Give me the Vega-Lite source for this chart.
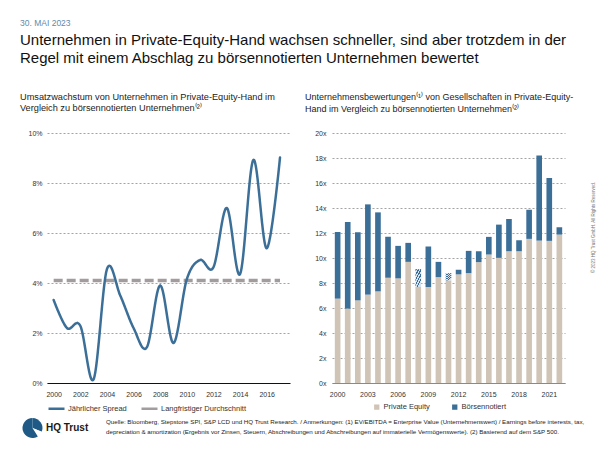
{
  "$schema": "https://vega.github.io/schema/vega-lite/v6.json",
  "background": "white",
  "padding": {"left": 20, "top": 18, "right": 5, "bottom": 5},
  "autosize": {"type": "pad"},
  "config": {
    "font": "Liberation Sans",
    "view": {"stroke": null},
    "axis": {"labelFontSize": 7, "labelColor": "#333333", "title": null, "ticks": false},
    "legend": {"labelFontSize": 7.5, "labelColor": "#333333", "title": null}
  },
  "title": {
    "text": "30. MAI 2023",
    "subtitle": ["Unternehmen in Private-Equity-Hand wachsen schneller, sind aber trotzdem in der", "Regel mit einem Abschlag zu börsennotierten Unternehmen bewertet"],
    "anchor": "start",
    "frame": "bounds",
    "fontSize": 8.5,
    "fontWeight": "normal",
    "color": "#5f8aab",
    "subtitleFontSize": 15,
    "subtitleColor": "#111111",
    "subtitleLineHeight": 18,
    "subtitlePadding": 6,
    "offset": 26.5
  },
  "bounds": "full",
  "spacing": 4,
  "vconcat": [
    {
      "bounds": "flush",
      "spacing": 42,
      "resolve": {"scale": {"color": "independent"}, "legend": {"color": "independent"}},
      "hconcat": [
        {
          "width": 243,
          "height": 250,
          "title": {
            "text": ["Umsatzwachstum von Unternehmen in Private-Equity-Hand im", "Vergleich zu börsennotierten Unternehmen⁽²⁾"],
            "anchor": "start",
            "frame": "group",
            "dx": -27,
            "fontSize": 9.2,
            "fontWeight": "normal",
            "color": "#222222",
            "lineHeight": 11.5,
            "offset": 15.5
          },
          "data": {
            "values": [
              {"jahr": 2000, "wert": 4.1, "serie": "Langfristiger Durchschnitt"},
              {"jahr": 2017, "wert": 4.1, "serie": "Langfristiger Durchschnitt"},
              {"jahr": 2000, "wert": 3.32, "serie": "Jährlicher Spread"},
              {"jahr": 2001, "wert": 2.2, "serie": "Jährlicher Spread"},
              {"jahr": 2002, "wert": 2.29, "serie": "Jährlicher Spread"},
              {"jahr": 2003, "wert": 0.15, "serie": "Jährlicher Spread"},
              {"jahr": 2004, "wert": 4.55, "serie": "Jährlicher Spread"},
              {"jahr": 2005, "wert": 3.5, "serie": "Jährlicher Spread"},
              {"jahr": 2006, "wert": 2.2, "serie": "Jährlicher Spread"},
              {"jahr": 2007, "wert": 1.43, "serie": "Jährlicher Spread"},
              {"jahr": 2008, "wert": 3.9, "serie": "Jährlicher Spread"},
              {"jahr": 2009, "wert": 1.6, "serie": "Jährlicher Spread"},
              {"jahr": 2010, "wert": 4.15, "serie": "Jährlicher Spread"},
              {"jahr": 2011, "wert": 4.92, "serie": "Jährlicher Spread"},
              {"jahr": 2012, "wert": 4.63, "serie": "Jährlicher Spread"},
              {"jahr": 2013, "wert": 7.0, "serie": "Jährlicher Spread"},
              {"jahr": 2014, "wert": 4.36, "serie": "Jährlicher Spread"},
              {"jahr": 2015, "wert": 8.92, "serie": "Jährlicher Spread"},
              {"jahr": 2016, "wert": 5.39, "serie": "Jährlicher Spread"},
              {"jahr": 2017, "wert": 9.02, "serie": "Jährlicher Spread"}
            ]
          },
          "encoding": {
            "x": {
              "field": "jahr", "type": "quantitative",
              "scale": {"domain": [1999.5, 2017.75], "nice": false, "zero": false},
              "axis": {"values": [2000, 2002, 2004, 2006, 2008, 2010, 2012, 2014, 2016], "format": "d", "grid": false, "domain": true, "domainColor": "#111111", "domainWidth": 1, "labelPadding": 7}
            },
            "y": {
              "field": "wert", "type": "quantitative",
              "scale": {"domain": [0, 10], "nice": false},
              "axis": {"values": [0, 2, 4, 6, 8, 10], "labelExpr": "datum.value + '%'", "domain": false, "grid": true, "gridDash": [2, 2], "gridColor": "#666666", "gridWidth": 0.6, "labelPadding": 5}
            },
            "color": {
              "field": "serie", "type": "nominal",
              "scale": {"domain": ["Jährlicher Spread", "Langfristiger Durchschnitt"], "range": ["#3b6f98", "#a29c9c"]},
              "legend": {"orient": "none", "legendX": 0, "legendY": 266, "direction": "horizontal", "symbolType": "stroke", "symbolSize": 256, "symbolStrokeWidth": 2.5, "columnPadding": 9, "labelOffset": 2}
            },
            "strokeDash": {
              "field": "serie", "type": "nominal",
              "scale": {"domain": ["Jährlicher Spread", "Langfristiger Durchschnitt"], "range": [[1, 0], [9, 4]]}
            },
            "strokeWidth": {
              "field": "serie", "type": "nominal",
              "scale": {"domain": ["Jährlicher Spread", "Langfristiger Durchschnitt"], "range": [2.5, 3.5]},
              "legend": null
            }
          },
          "layer": [
            {"transform": [{"filter": "datum.serie == 'Langfristiger Durchschnitt'"}], "mark": {"type": "line", "strokeCap": "butt"}},
            {"transform": [{"filter": "datum.serie == 'Jährlicher Spread'"}], "mark": {"type": "line", "interpolate": "cardinal", "strokeCap": "round"}}
          ]
        },
        {
          "width": 233,
          "height": 250,
          "title": {
            "text": ["Unternehmensbewertungen⁽¹⁾ von Gesellschaften in Private-Equity-", "Hand im Vergleich zu börsennotierten Unternehmen⁽²⁾"],
            "anchor": "start",
            "frame": "group",
            "dx": -27,
            "fontSize": 9,
            "fontWeight": "normal",
            "color": "#222222",
            "lineHeight": 11.5,
            "offset": 15.5
          },
          "data": {
            "values": [
              {"jahr": 2000, "private_equity": 6.75, "boersennotiert": 12.08},
              {"jahr": 2001, "private_equity": 5.95, "boersennotiert": 12.88},
              {"jahr": 2002, "private_equity": 6.61, "boersennotiert": 12.06},
              {"jahr": 2003, "private_equity": 7.07, "boersennotiert": 14.29},
              {"jahr": 2004, "private_equity": 7.33, "boersennotiert": 13.65},
              {"jahr": 2005, "private_equity": 8.42, "boersennotiert": 11.71},
              {"jahr": 2006, "private_equity": 8.37, "boersennotiert": 10.97},
              {"jahr": 2007, "private_equity": 9.69, "boersennotiert": 11.21},
              {"jahr": 2008, "private_equity": 7.68, "boersennotiert": 9.11},
              {"jahr": 2009, "private_equity": 7.68, "boersennotiert": 10.92},
              {"jahr": 2010, "private_equity": 8.47, "boersennotiert": 9.69},
              {"jahr": 2011, "private_equity": 8.21, "boersennotiert": 8.79},
              {"jahr": 2012, "private_equity": 8.69, "boersennotiert": 9.06},
              {"jahr": 2013, "private_equity": 8.79, "boersennotiert": 10.57},
              {"jahr": 2014, "private_equity": 9.67, "boersennotiert": 10.54},
              {"jahr": 2015, "private_equity": 10.28, "boersennotiert": 11.69},
              {"jahr": 2016, "private_equity": 10.01, "boersennotiert": 12.67},
              {"jahr": 2017, "private_equity": 10.54, "boersennotiert": 13.12},
              {"jahr": 2018, "private_equity": 10.54, "boersennotiert": 11.42},
              {"jahr": 2019, "private_equity": 11.53, "boersennotiert": 13.86},
              {"jahr": 2020, "private_equity": 11.39, "boersennotiert": 18.2},
              {"jahr": 2021, "private_equity": 11.37, "boersennotiert": 16.4},
              {"jahr": 2022, "private_equity": 11.87, "boersennotiert": 12.46}
            ]
          },
          "encoding": {
            "x": {
              "field": "jahr", "type": "ordinal",
              "scale": {"paddingInner": 0.44, "paddingOuter": 0.28},
              "axis": {"values": [2000, 2003, 2006, 2009, 2012, 2015, 2018, 2021], "labelAngle": 0, "grid": false, "domain": true, "domainColor": "#8a8a8a", "domainWidth": 1.2, "labelPadding": 7}
            }
          },
          "resolve": {"scale": {"y": "independent"}, "axis": {"y": "independent"}},
          "layer": [
            {
              "encoding": {
                "y": {
                  "field": "private_equity", "type": "quantitative",
                  "scale": {"domain": [0, 20], "nice": false},
                  "axis": {"values": [0, 2, 4, 6, 8, 10, 12, 14, 16, 18, 20], "labelExpr": "datum.value + 'x'", "labelOverlap": false, "domain": false, "grid": true, "gridDash": [2, 2], "gridColor": "#666666", "gridWidth": 0.6, "labelPadding": 6}
                }
              },
              "layer": [
                {
                  "mark": {"type": "bar"},
                  "encoding": {
                    "color": {
                      "datum": "Private Equity",
                      "scale": {"domain": ["Private Equity", "Börsennotiert"], "range": ["#d0c4b6", "#3b6f98"]},
                      "legend": {"orient": "none", "legendX": 41, "legendY": 270, "direction": "horizontal", "symbolType": "square", "symbolSize": 28, "columnPadding": 21, "labelOffset": 3}
                    }
                  }
                },
                {
                  "transform": [{"filter": "datum.jahr != 2008 && datum.jahr != 2011"}],
                  "mark": {"type": "bar"},
                  "encoding": {
                    "y2": {"field": "boersennotiert"},
                    "color": {"datum": "Börsennotiert"}
                  }
                }
              ]
            },
            {
              "transform": [{"filter": "datum.jahr == 2008 || datum.jahr == 2011"}],
              "mark": {
                "type": "bar",
                "fill": {
                  "gradient": "linear", "x1": 0, "y1": 0, "x2": 0.6, "y2": 1,
                  "stops": [
                    {"offset": 0, "color": "#3b6f98"}, {"offset": 0.1, "color": "#3b6f98"},
                    {"offset": 0.1, "color": "#d5e2ec"}, {"offset": 0.2, "color": "#d5e2ec"},
                    {"offset": 0.2, "color": "#3b6f98"}, {"offset": 0.3, "color": "#3b6f98"},
                    {"offset": 0.3, "color": "#d5e2ec"}, {"offset": 0.4, "color": "#d5e2ec"},
                    {"offset": 0.4, "color": "#3b6f98"}, {"offset": 0.5, "color": "#3b6f98"},
                    {"offset": 0.5, "color": "#d5e2ec"}, {"offset": 0.6, "color": "#d5e2ec"},
                    {"offset": 0.6, "color": "#3b6f98"}, {"offset": 0.7, "color": "#3b6f98"},
                    {"offset": 0.7, "color": "#d5e2ec"}, {"offset": 0.8, "color": "#d5e2ec"},
                    {"offset": 0.8, "color": "#3b6f98"}, {"offset": 0.9, "color": "#3b6f98"},
                    {"offset": 0.9, "color": "#d5e2ec"}, {"offset": 1, "color": "#d5e2ec"}
                  ]
                }
              },
              "encoding": {
                "y": {
                  "field": "private_equity", "type": "quantitative",
                  "scale": {"domain": [0, 20], "nice": false},
                  "axis": {"orient": "right", "title": "© 2023 HQ Trust GmbH. All Rights Reserved.", "labels": false, "ticks": false, "domain": false, "grid": false, "titleAngle": 270, "titleFontSize": 4.5, "titleFontWeight": "normal", "titleColor": "#777777", "titlePadding": 30, "titleY": 94}
                },
                "y2": {"field": "boersennotiert"}
              }
            }
          ]
        }
      ]
    },
    {
      "spacing": 17,
      "hconcat": [
        {
          "width": 28,
          "height": 20,
          "title": {"text": "HQ Trust", "orient": "top", "anchor": "start", "frame": "group", "dx": -1, "offset": -15, "fontSize": 10, "fontWeight": "bold", "color": "#1a1a1a"},
          "data": {
            "values": [
              {"nr": 1, "teil": "Logo", "anteil": 31},
              {"nr": 2, "teil": "Lücke", "anteil": 10},
              {"nr": 3, "teil": "Logo", "anteil": 59}
            ]
          },
          "mark": {"type": "arc", "xOffset": -28.5},
          "encoding": {
            "theta": {"field": "anteil", "type": "quantitative", "stack": true},
            "order": {"field": "nr"},
            "color": {"field": "teil", "type": "nominal", "scale": {"domain": ["Logo", "Lücke"], "range": ["#1f5a86", "#ffffff"]}, "legend": null}
          }
        },
        {
          "width": 470,
          "height": 20,
          "title": {
            "text": ["Quelle: Bloomberg, Stepstone SPI, S&P LCD und HQ Trust Research. / Anmerkungen: (1) EV/EBITDA = Enterprise Value (Unternehmenswert) / Earnings before interests, tax,", "depreciation & amortization (Ergebnis vor Zinsen, Steuern, Abschreibungen und Abschreibungen auf immaterielle Vermögenswerte). (2) Basierend auf dem S&P 500."],
            "orient": "bottom",
            "anchor": "start",
            "baseline": "top",
            "offset": -19,
            "fontSize": 6.2,
            "fontWeight": "normal",
            "color": "#222222",
            "lineHeight": 9.5
          },
          "data": {"values": []},
          "mark": {"type": "text"}
        }
      ]
    }
  ]
}
